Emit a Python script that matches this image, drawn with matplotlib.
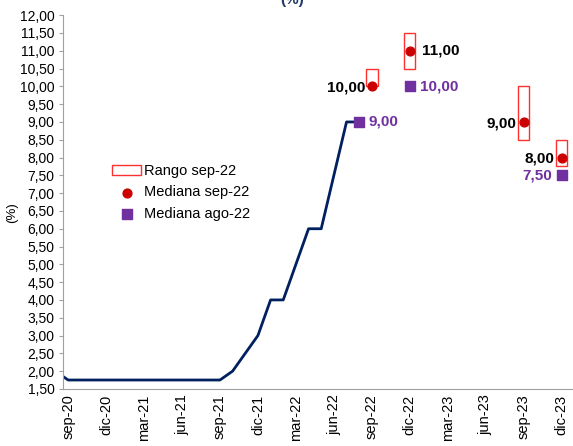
import numpy as np
import matplotlib.pyplot as plt
from matplotlib.ticker import FuncFormatter, MultipleLocator

plt.rcParams['font.family'] = ['Liberation Sans', 'DejaVu Sans']

# monthly categories sep-20 .. dic-23
months = ['ene', 'feb', 'mar', 'abr', 'may', 'jun', 'jul', 'ago', 'sep', 'oct', 'nov', 'dic']
cats = []
for i in range(40):
    k = 8 + i
    cats.append(f"{months[k % 12]}-{20 + k // 12}")

# policy rate (observed), from ago-20 to ago-22
rate_cats = ['ago-20', 'sep-20', 'oct-20', 'nov-20', 'dic-20', 'ene-21', 'feb-21', 'mar-21',
             'abr-21', 'may-21', 'jun-21', 'jul-21', 'ago-21', 'sep-21', 'oct-21', 'nov-21',
             'dic-21', 'ene-22', 'feb-22', 'mar-22', 'abr-22', 'may-22', 'jun-22', 'jul-22', 'ago-22']
rate_vals = [2.00, 1.75, 1.75, 1.75, 1.75, 1.75, 1.75, 1.75,
             1.75, 1.75, 1.75, 1.75, 1.75, 1.75, 2.00, 2.50,
             3.00, 4.00, 4.00, 5.00, 6.00, 6.00, 7.50, 9.00, 9.00]

# survey sep-22: median and range
sep_cats = ['sep-22', 'dic-22', 'sep-23', 'dic-23']
sep_median = [10.00, 11.00, 9.00, 8.00]
sep_low = [10.00, 10.50, 8.50, 7.75]
sep_high = [10.50, 11.50, 10.00, 8.50]

# survey ago-22: median
ago_cats = ['ago-22', 'dic-22', 'dic-23']
ago_median = [9.00, 10.00, 7.50]

pos = {c: i for i, c in enumerate(cats)}
pos['ago-20'] = -1

navy = '#002060'
red = '#CC0000'
purple = '#7030A0'

fig = plt.figure(figsize=(5.73, 4.46), dpi=100)
ax = fig.add_axes([0.11, 0.128, 0.889, 0.838])

x_rate = [pos[c] for c in rate_cats]
ax.plot(x_rate, rate_vals, color=navy, lw=2, zorder=2)

x_sep = np.array([pos[c] for c in sep_cats])
h_rng = ax.bar(x_sep, np.array(sep_high) - np.array(sep_low), bottom=sep_low, width=0.9,
               color='white', edgecolor='#FF3030', lw=1, zorder=3, label='Rango sep-22')
h_sep = ax.scatter(x_sep, sep_median, s=40, color=red, zorder=4, label='Mediana sep-22')

x_ago = [pos[c] for c in ago_cats]
h_ago = ax.scatter(x_ago, ago_median, s=60, marker='s', color=purple, zorder=4,
                   label='Mediana ago-22')

def fmt(v):
    return f"{v:.2f}".replace('.', ',')

# value labels
lbl = dict(fontsize=11, fontweight='bold', va='center')
for c, v in zip(sep_cats, sep_median):
    if c == 'dic-22':
        ax.annotate(fmt(v), (pos[c], v), xytext=(9, 0), textcoords='offset points',
                    ha='left', color='black', **lbl)
    else:
        ax.annotate(fmt(v), (pos[c], v), xytext=(-5, -1), textcoords='offset points',
                    ha='right', color='black', **lbl)
for c, v in zip(ago_cats, ago_median):
    if c == 'dic-23':
        ax.annotate(fmt(v), (pos[c], v), xytext=(-7, 0), textcoords='offset points',
                    ha='right', color=purple, **lbl)
    else:
        ax.annotate(fmt(v), (pos[c], v), xytext=(7, 0), textcoords='offset points',
                    ha='left', color=purple, **lbl)

ax.set_xlim(-0.4, 39.85)
ax.set_ylim(1.5, 12.0)
ax.yaxis.set_major_locator(MultipleLocator(0.5))
ax.yaxis.set_major_formatter(FuncFormatter(lambda v, p: fmt(v)))
ax.set_xticks(range(0, 40, 3))
ax.set_xticklabels(cats[::3], rotation=90, fontsize=10.5)
ax.tick_params(axis='y', labelsize=10, length=3, color='#A0A0A0', pad=3)
ax.tick_params(axis='x', length=0, pad=4)
ax.set_ylabel('(%)', fontsize=9.5)
ax.yaxis.set_label_coords(-0.088, 0.473)

for s in ['top', 'right']:
    ax.spines[s].set_visible(False)
for s in ['left', 'bottom']:
    ax.spines[s].set_color('#A0A0A0')

ax.legend([h_rng, h_sep, h_ago], ['Rango sep-22', 'Mediana sep-22', 'Mediana ago-22'],
          loc='upper left', bbox_to_anchor=(0.085, 0.617), frameon=False, fontsize=10.5,
          handlelength=2.0, handletextpad=0.2, labelspacing=0.5, borderaxespad=0)

fig.text(0.51, 1.0, '(%)', ha='center', va='center', fontsize=11, fontweight='bold', color='#1F3864')

fig.savefig('out.png', dpi=100)
